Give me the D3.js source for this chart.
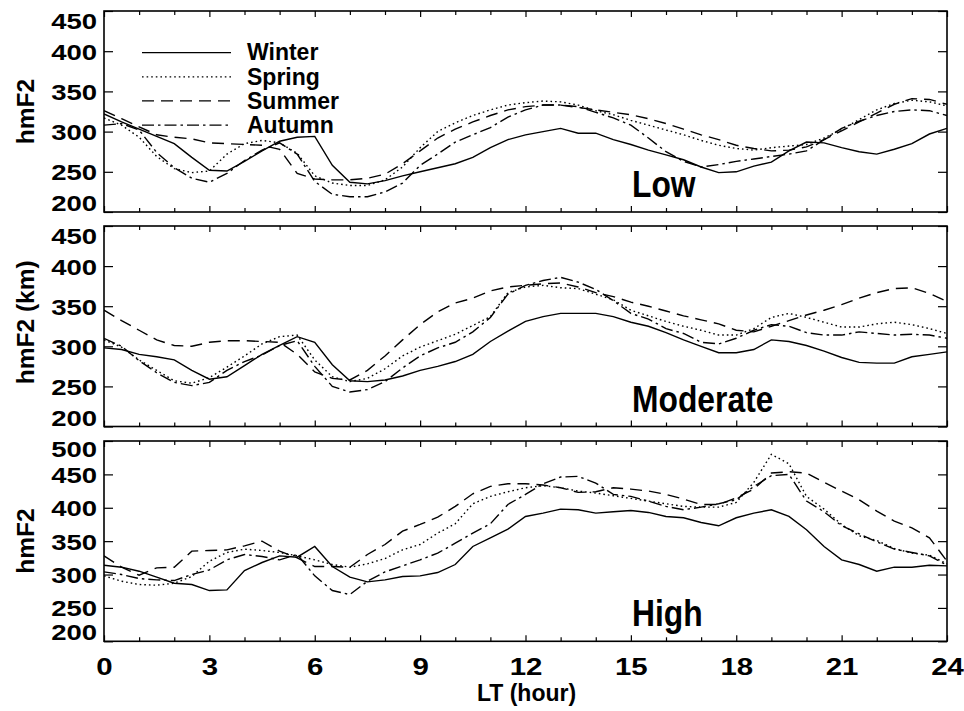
<!DOCTYPE html>
<html>
<head>
<meta charset="utf-8">
<script src="https://cdn.jsdelivr.net/npm/d3@7"></script>
<style>
  html, body { margin: 0; padding: 0; background: #fff; }
  svg { display: block; font-family: "Liberation Sans", Arial, Helvetica, sans-serif; font-weight: bold; }
</style>
</head>
<body>
<svg id="chart" width="964" height="711"></svg>
<script>
// Local time grid (hours), half-hour sampling
const hours = d3.range(0, 24.001, 0.5);
const seasons = ["Winter", "Spring", "Summer", "Autumn"];
const xTickLabels = [0, 3, 6, 9, 12, 15, 18, 21, 24];
const yTicksLowMod = [200, 250, 300, 350, 400, 450];
const yTicksHigh = [200, 250, 300, 350, 400, 450, 500];
const activityLabels = ["Low", "Moderate", "High"];
const yTitles = ["hmF2", "hmF2 (km)", "hmF2"];

// hmF2 (km), low solar activity
const lowWinter = [322,312,303,294,285,268,252,251,263,276,288,293,294,258,237,235,239,245,250,255,260,268,280,290,296,300,304,298,298,290,284,277,271,265,256,249,250,257,262,276,287,286,280,275,272,278,285,297,304];
const lowSpring = [317,308,293,269,254,249,251,272,285,289,286,273,245,236,233,233,240,256,280,300,311,320,327,333,336,338,337,333,326,321,314,308,302,296,289,283,279,277,280,282,284,292,303,315,327,335,339,337,332];
const lowSummer = [326,316,306,296,293,291,286,285,284,283,278,248,241,240,240,242,247,260,276,292,303,312,320,327,331,333,333,330,327,324,321,316,310,303,296,290,283,279,276,277,281,290,301,312,323,334,341,340,334];
const lowAutumn = [308,310,302,274,255,242,237,248,264,277,286,272,238,222,219,219,225,236,258,272,287,296,305,318,327,333,333,331,324,317,308,292,275,263,256,259,263,266,269,272,276,290,304,313,320,325,327,326,320];

// hmF2 (km), moderate solar activity
const modWinter = [298,296,290,287,283,270,259,262,276,290,301,312,305,277,257,256,258,263,270,275,281,290,306,319,331,337,341,341,341,337,330,325,317,308,300,292,292,296,308,306,301,294,286,280,279,279,287,290,293];
const modSpring = [308,299,283,270,257,254,261,274,288,303,312,314,283,262,256,260,272,288,299,307,315,326,337,367,374,376,373,372,365,358,345,338,331,325,320,314,314,322,336,341,336,330,324,324,328,330,327,322,316];
const modSummer = [345,332,320,308,301,300,305,307,307,306,305,290,268,260,258,270,288,308,327,343,354,360,369,374,376,378,379,374,367,362,355,350,344,338,333,328,320,318,325,332,339,345,352,360,367,372,373,366,356];
const modAutumn = [310,300,282,267,255,251,255,270,281,289,301,307,275,250,243,246,256,273,288,298,305,318,336,365,376,382,386,380,371,357,341,334,322,316,305,303,310,320,327,325,317,314,314,318,316,314,315,314,310];

// hmF2 (km), high solar activity
const highWinter = [314,311,305,296,287,285,276,277,306,318,328,326,342,312,296,289,292,297,298,303,315,342,355,368,387,392,398,397,392,394,396,393,387,385,378,373,385,392,397,387,367,342,322,315,305,311,311,314,313];
const highSpring = [298,290,285,284,287,297,320,333,338,336,333,328,322,315,311,316,324,337,345,362,376,406,417,424,430,433,430,425,422,418,414,410,406,402,401,401,408,438,480,466,417,398,375,358,351,339,332,329,316];
const highSummer = [328,311,299,310,311,335,336,337,343,350,335,325,312,312,311,330,345,365,375,386,402,421,432,436,436,434,430,423,424,430,428,425,420,413,405,405,415,428,452,454,452,438,425,412,395,380,370,355,320];
const highAutumn = [304,300,294,292,291,300,307,322,330,327,322,330,298,276,270,290,304,313,322,332,347,362,376,405,420,436,446,447,437,420,417,410,402,397,401,406,412,432,448,450,410,394,373,361,349,338,333,328,314];

// Line style per season
const dashBySeason = { Winter: null, Spring: "1.6,3", Summer: "12,7", Autumn: "12,4,2.5,4" };

const panels = [
  { top: 11,  bottom: 212,   domain: [200, 450], ticks: yTicksLowMod, topShift: "0.8em",  series: [lowWinter, lowSpring, lowSummer, lowAutumn] },
  { top: 226, bottom: 426.5, domain: [200, 450], ticks: yTicksLowMod, topShift: "0.8em",  series: [modWinter, modSpring, modSummer, modAutumn] },
  { top: 441, bottom: 641.3, domain: [200, 500], ticks: yTicksHigh,   topShift: "0.72em", series: [highWinter, highSpring, highSummer, highAutumn] }
];

const left = 104, right = 947;
const svg = d3.select("#chart");
const x = d3.scaleLinear().domain([0, 24]).range([left, right]);

panels.forEach((p, i) => {
  const y = d3.scaleLinear().domain(p.domain).range([p.bottom, p.top]);
  const g = svg.append("g");

  const clipId = "clip" + i;
  svg.append("clipPath").attr("id", clipId)
    .append("rect").attr("x", left).attr("y", p.top).attr("width", right - left).attr("height", p.bottom - p.top);

  // Data lines
  const line = d3.line().x((d, k) => x(hours[k])).y(d => y(d));
  p.series.forEach((vals, s) => {
    g.append("path")
      .datum(vals)
      .attr("clip-path", `url(#${clipId})`)
      .attr("d", line)
      .attr("fill", "none")
      .attr("stroke", "#000")
      .attr("stroke-width", 1.4)
      .attr("stroke-dasharray", dashBySeason[seasons[s]]);
  });

  // Left axis with labels (end labels pulled inside the panel)
  const yAxis = g.append("g").attr("transform", `translate(${left},0)`)
    .call(d3.axisLeft(y).tickValues(p.ticks).tickSize(-9).tickPadding(5.6).tickFormat(d3.format("d")));
  yAxis.select(".domain").remove();
  yAxis.selectAll("line").attr("stroke", "#000").attr("stroke-width", 1.2);
  yAxis.selectAll("text")
    .attr("fill", "#000")
    .style("font-size", "22px")
    .attr("transform", "scale(1.25,1)")
    .attr("dy", (d) => d === p.domain[1] ? p.topShift : d === p.domain[0] ? "-0.06em" : "0.36em");

  // Right axis ticks
  const yAxisR = g.append("g").attr("transform", `translate(${right},0)`)
    .call(d3.axisRight(y).tickValues(p.ticks).tickSize(-9).tickFormat(""));
  yAxisR.select(".domain").remove();
  yAxisR.selectAll("line").attr("stroke", "#000").attr("stroke-width", 1.2);

  // Hour ticks along top and bottom
  const hourTicks = d3.range(0, 25, 1);
  [[p.bottom, d3.axisBottom], [p.top, d3.axisTop]].forEach(([yy, axisFn]) => {
    const minor = g.append("g").attr("transform", `translate(0,${yy})`)
      .call(axisFn(x).tickValues(hourTicks.filter(h => h % 3 !== 0)).tickSize(-4).tickFormat(""));
    minor.select(".domain").remove();
    minor.selectAll("line").attr("stroke", "#000").attr("stroke-width", 1.2);
    const major = g.append("g").attr("transform", `translate(0,${yy})`)
      .call(axisFn(x).tickValues(xTickLabels).tickSize(-6).tickFormat(""));
    major.select(".domain").remove();
    major.selectAll("line").attr("stroke", "#000").attr("stroke-width", 1.2);
  });

  // Frame
  g.append("rect")
    .attr("x", left).attr("y", p.top)
    .attr("width", right - left).attr("height", p.bottom - p.top)
    .attr("fill", "none").attr("stroke", "#000").attr("stroke-width", 1.6);

  // Y title
  g.append("text")
    .attr("transform", `translate(34,${(p.top + p.bottom) / 2 - (i === 1 ? 4 : 0)}) rotate(-90)`)
    .attr("text-anchor", "middle")
    .style("font-size", "24.5px")
    .text(yTitles[i]);

  // Activity label
  g.append("text")
    .attr("transform", `translate(632,${p.bottom - 15}) scale(0.86,1)`)
    .style("font-size", "37px")
    .text(activityLabels[i]);

  // Hour labels only under the last panel
  if (i === panels.length - 1) {
    const xa = g.append("g").attr("transform", `translate(0,${p.bottom})`)
      .call(d3.axisBottom(x).tickValues(xTickLabels).tickSize(0).tickPadding(0).tickFormat(d3.format("d")));
    xa.select(".domain").remove();
    xa.selectAll("text")
      .attr("fill", "#000")
      .style("font-size", "23px")
      .attr("dy", "1.45em")
      .attr("transform", "scale(1.28,1)");
    g.append("text")
      .attr("x", (left + right) / 2 + 1)
      .attr("y", 701)
      .attr("text-anchor", "middle")
      .style("font-size", "23px")
      .text("LT (hour)");
  }
});

// Legend in the top panel
const legendY = d3.scaleBand().domain(seasons).range([40.6, 137.1]);
const legend = svg.append("g");
seasons.forEach(s => {
  const yy = legendY(s) + legendY.bandwidth() / 2;
  legend.append("line")
    .attr("x1", 142).attr("x2", 231).attr("y1", yy).attr("y2", yy)
    .attr("stroke", "#000").attr("stroke-width", 1.3)
    .attr("stroke-dasharray", dashBySeason[s]);
  legend.append("text")
    .attr("x", 247).attr("y", yy + 7.8)
    .style("font-size", "23px")
    .text(s);
});
</script>
</body>
</html>
